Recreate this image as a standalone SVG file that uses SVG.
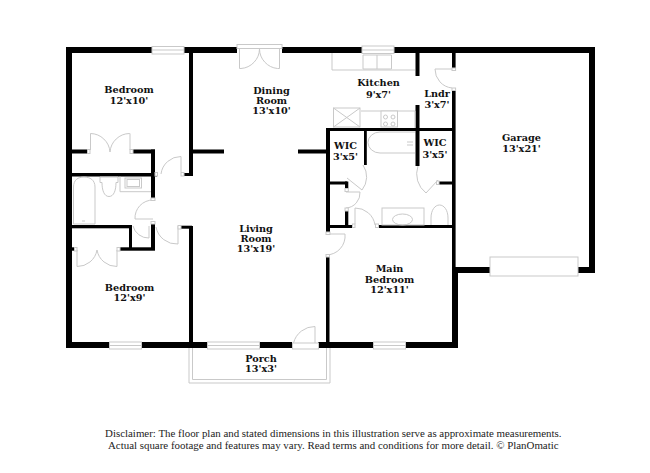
<svg xmlns="http://www.w3.org/2000/svg" width="650" height="473" viewBox="0 0 650 473">
<style>
.w{fill:#000;stroke:none}
.f{fill:#fff;stroke:#c9c9c9;stroke-width:1}
.l{fill:none;stroke:#c9c9c9;stroke-width:1}
.t{font-family:"DejaVu Serif","Liberation Serif",serif;font-weight:700;font-size:9.7px;text-anchor:middle;fill:#111}
.d{font-family:"Liberation Serif","DejaVu Serif",serif;font-size:10.9px;text-anchor:middle;fill:#222}
</style>
<rect width="650" height="473" fill="#fff"/>
<g id="walls">
<path class="w" d="M66 47H152V53H72V342H109V348H66Z"/>
<rect class="w" x="184" y="47" width="53" height="6"/>
<rect class="w" x="282" y="47" width="80" height="6"/>
<rect class="w" x="394" y="47" width="201" height="6"/>
<rect class="w" x="589" y="47" width="6" height="226"/>
<rect class="w" x="578" y="267" width="17" height="6"/>
<rect class="w" x="452" y="267" width="38" height="6"/>
<rect class="w" x="452" y="53" width="3.6" height="15"/>
<rect class="w" x="452" y="90" width="3.6" height="180"/>
<rect class="w" x="452" y="267" width="6" height="81"/>
<rect class="w" x="142" y="342" width="65.5" height="6"/>
<rect class="w" x="259" y="342" width="33" height="6"/>
<rect class="w" x="318" y="342" width="55" height="6"/>
<rect class="w" x="406" y="342" width="52" height="6"/>
<rect class="w" x="189" y="53" width="4" height="123"/>
<rect class="w" x="184" y="173" width="9" height="3"/>
<rect class="w" x="192" y="149.500" width="32" height="4"/>
<rect class="w" x="298" y="149.500" width="28" height="4"/>
<rect class="w" x="326" y="128" width="4" height="104"/>
<rect class="w" x="326" y="257" width="3.500" height="85"/>
<rect class="w" x="326" y="128" width="126" height="3"/>
<rect class="w" x="415.500" y="53" width="4" height="23"/>
<rect class="w" x="415.500" y="105" width="4" height="61"/>
<rect class="w" x="364" y="131" width="2.800" height="34"/>
<rect class="w" x="330" y="181.500" width="17" height="3"/>
<rect class="w" x="345" y="181.500" width="3.300" height="7"/>
<rect class="w" x="345" y="211" width="3.300" height="15"/>
<rect class="w" x="330" y="225" width="22.500" height="3"/>
<rect class="w" x="378.500" y="225" width="74" height="3"/>
<rect class="w" x="439" y="181.500" width="13" height="3"/>
<rect class="w" x="72" y="149.500" width="15.500" height="4"/>
<rect class="w" x="133" y="149.500" width="22" height="4"/>
<rect class="w" x="151" y="149.500" width="4" height="49"/>
<rect class="w" x="72" y="173" width="85" height="3.500"/>
<rect class="w" x="72" y="225" width="60" height="3.300"/>
<rect class="w" x="129" y="225" width="3" height="25"/>
<rect class="w" x="120" y="247.300" width="35" height="3.400"/>
<rect class="w" x="151" y="224" width="4" height="26"/>
<rect class="w" x="72" y="247.300" width="2.500" height="3.400"/>
<rect class="w" x="181" y="225.700" width="11" height="3"/>
<rect class="w" x="189" y="226" width="4" height="116"/>
</g>
<g id="windows">
<rect class="f" x="152" y="46.500" width="32" height="7.500"/><path class="l" d="M152 50H184"/>
<rect class="f" x="362" y="46" width="32" height="7.500"/><path class="l" d="M362 50H394"/>
<rect class="f" x="109.500" y="342" width="32" height="7"/><path class="l" d="M109.500 345.500H141.500"/>
<rect class="f" x="207.500" y="342" width="52" height="7"/><path class="l" d="M207.500 345.500H259.500"/>
<rect class="f" x="373.500" y="342" width="32" height="7"/><path class="l" d="M373.500 345.500H405.500"/>
<rect class="f" x="490" y="257" width="88" height="19"/>
</g>
<g id="porch">
<path class="l" d="M189 348V383H330V348M192.500 348V379.500H326.500V348"/>
</g>
<g id="doors">
<rect class="f" x="237" y="44.500" width="45" height="4"/>
<path class="l" d="M239.500 48.500V68.500H241A20 20 0 0 0 259.500 49A20 20 0 0 0 277.500 68.500H279.500V48.500"/>
<path class="l" d="M90.500 150V133.500A20 20 0 0 1 110 152A20 20 0 0 1 129.500 133.500H130V150"/>
<path class="l" d="M77 250V266.500A20 20 0 0 0 97 250A20 20 0 0 0 117 266.500V250"/>
<path class="l" d="M181 172V156.500A20 20 0 0 0 161 174"/>
<path class="l" d="M153 219H135A18 18 0 0 1 153 200"/>
<path class="l" d="M149 226V238A16 16 0 0 1 133 226"/>
<path class="l" d="M178 226V244A21 21 0 0 1 156 227"/>
<path class="l" d="M326 234H345A19 19 0 0 1 326 255"/>
<path class="l" d="M452 69H435A19 19 0 0 0 452 88"/>
<path class="l" d="M347 178L362 190A21 21 0 0 0 363 165"/>
<path class="l" d="M346 192H360A15 15 0 0 1 346 208"/>
<path class="l" d="M355 224V208A20 20 0 0 1 375 225"/>
<path class="l" d="M438 180L426 193A24 24 0 0 1 418 166"/>
<path class="l" d="M315 343V326.500A22 22 0 0 0 293.500 343"/>
<rect class="f" x="292.500" y="343" width="26" height="6"/>
<rect class="f" x="87.500" y="149.500" width="2.500" height="4"/><rect class="f" x="130" y="149.500" width="3" height="4"/>
<rect class="f" x="74.500" y="247.500" width="2.500" height="3.500"/><rect class="f" x="117" y="247.500" width="3" height="3.500"/>
<rect class="f" x="178" y="225.500" width="3" height="3.500"/><rect class="f" x="181" y="172.500" width="3" height="3.500"/>
<rect class="f" x="155" y="172.500" width="2.500" height="3.500"/><rect class="f" x="151" y="198" width="4" height="2.500"/>
<rect class="f" x="151" y="221.500" width="4" height="2.500"/><rect class="f" x="326" y="232" width="4" height="2.500"/>
<rect class="f" x="326" y="254.500" width="3.500" height="2.500"/><rect class="f" x="452" y="68" width="3.600" height="2.500"/>
<rect class="f" x="452" y="88" width="3.600" height="2.500"/><rect class="f" x="345" y="188.500" width="3.300" height="3"/>
<rect class="f" x="345" y="208" width="3.300" height="3"/><rect class="f" x="352.500" y="224" width="2.500" height="3.500"/>
<rect class="f" x="375.500" y="224" width="3" height="3.500"/><rect class="f" x="436.500" y="181" width="2.500" height="3.500"/>
</g>
<g id="fixtures">
<path class="l" d="M332 53V70H415M361 111H415V128M363 55H391.500V69H363ZM377 55V69"/>
<rect class="f" x="333.500" y="108" width="26.500" height="19"/>
<path class="l" d="M333.500 108L360 127M360 108L333.500 127"/>
<rect class="f" x="381" y="111" width="16.500" height="16"/>
<circle class="l" cx="385.500" cy="117" r="2"/><circle class="l" cx="393" cy="117" r="2"/><circle class="l" cx="385.500" cy="124" r="2"/><circle class="l" cx="393" cy="124" r="2"/>
<path class="l" d="M415 132H380A12 10.500 0 0 0 368 142.500A12 10.500 0 0 0 380 153H415"/>
<path class="l" d="M407 142H413M407 145H413"/>
<rect class="l" x="382" y="208" width="42" height="17"/>
<ellipse class="l" cx="402.500" cy="219.500" rx="10" ry="5.500"/>
<path class="l" d="M431 225V218C431 210 435 205 439.500 205C444 205 448 210 448 218V225"/>
<path class="l" d="M73.500 224V187C73.500 180 78 177 84 177C90 177 95 180 95 187V224Z"/>
<path class="l" d="M82 221H85"/>
<path class="l" d="M100 177H118V182.500H116C116 190 114 196.500 109 196.500C104 196.500 102 190 102 182.500H100Z"/>
<path class="l" d="M120 176.500V191.700H151"/>
<rect class="l" x="125" y="178" width="16.500" height="10"/>
<rect class="l" x="127" y="179.500" width="12.500" height="7"/>
</g>
<g id="labels">
<text class="t" x="129" y="93">Bedroom</text><text class="t" x="129" y="103.500">12'x10'</text>
<text class="t" x="271.500" y="93.500">Dining</text><text class="t" x="271.500" y="103.500">Room</text><text class="t" x="271.500" y="114">13'x10'</text>
<text class="t" x="378.500" y="86">Kitchen</text><text class="t" x="378.500" y="97.500">9'x7'</text>
<text class="t" x="437" y="97">Lndr</text><text class="t" x="437" y="108">3'x7'</text>
<text class="t" x="521.500" y="141">Garage</text><text class="t" x="521.500" y="152">13'x21'</text>
<text class="t" x="345.500" y="148.500">WIC</text><text class="t" x="345.500" y="160">3'x5'</text>
<text class="t" x="435" y="146">WIC</text><text class="t" x="435" y="158">3'x5'</text>
<text class="t" x="256" y="231.500">Living</text><text class="t" x="256" y="241.500">Room</text><text class="t" x="256" y="252">13'x19'</text>
<text class="t" x="129.500" y="290.500">Bedroom</text><text class="t" x="129.500" y="301">12'x9'</text>
<text class="t" x="389.500" y="272">Main</text><text class="t" x="389.500" y="282.500">Bedroom</text><text class="t" x="389.500" y="293">12'x11'</text>
<text class="t" x="261" y="362">Porch</text><text class="t" x="261" y="372">13'x3'</text>
<text class="d" x="333.300" y="437">Disclaimer: The floor plan and stated dimensions in this illustration serve as approximate measurements.</text>
<text class="d" x="333.300" y="449">Actual square footage and features may vary. Read terms and conditions for more detail. © PlanOmatic</text>
</g>
</svg>
